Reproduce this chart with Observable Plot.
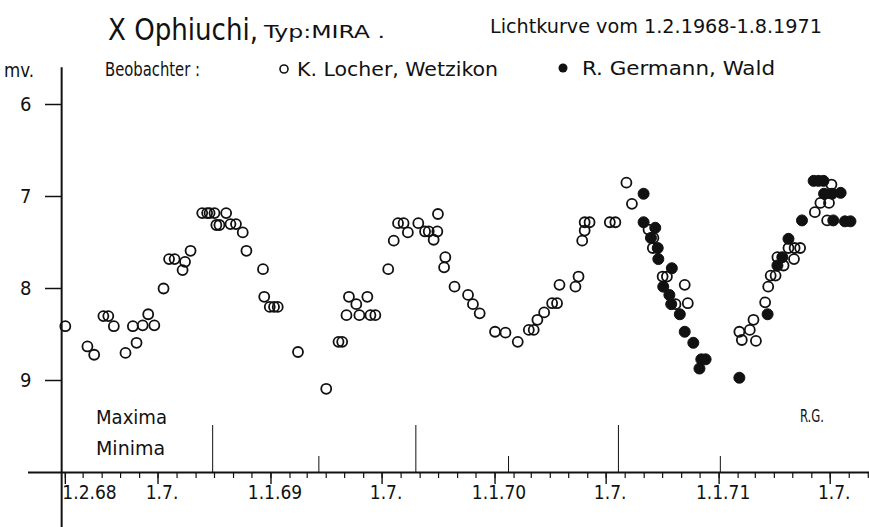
<!DOCTYPE html>
<html>
<head>
<meta charset="utf-8">
<script src="https://cdn.jsdelivr.net/npm/d3@7"></script>
<script src="https://cdn.jsdelivr.net/npm/@observablehq/plot@0.6"></script>
<style>
  body { margin: 0; background: #fff; }
  #wrap { position: relative; width: 869px; height: 527px; overflow: hidden; background: #fff; }
  #overlay { position: absolute; left: 0; top: 0; pointer-events: none; }
  #chart { position: absolute; left: 0; top: 0; }
</style>
</head>
<body>
<div id="wrap">
  <div id="chart"></div>
  <svg id="overlay" width="869" height="527" font-family="'DejaVu Sans Condensed','DejaVu Sans',sans-serif" fill="#111">
    <text x="108" y="40" font-size="30" textLength="150" lengthAdjust="spacingAndGlyphs">X Ophiuchi,</text>
    <text x="264" y="38" font-size="17" textLength="121" lengthAdjust="spacingAndGlyphs">Typ:MIRA .</text>
    <text x="490" y="33" font-size="20" textLength="332" lengthAdjust="spacingAndGlyphs">Lichtkurve vom 1.2.1968-1.8.1971</text>
    <text x="4" y="77" font-size="19" textLength="30" lengthAdjust="spacingAndGlyphs">mv.</text>
    <text x="105" y="76" font-size="19" textLength="95" lengthAdjust="spacingAndGlyphs">Beobachter :</text>
    <circle cx="284" cy="69" r="4" fill="none" stroke="#111" stroke-width="1.6"></circle>
    <text x="297" y="76" font-size="19" textLength="201" lengthAdjust="spacingAndGlyphs">K. Locher, Wetzikon</text>
    <circle cx="563" cy="68" r="4.5" fill="#111"></circle>
    <text x="582" y="75" font-size="19" textLength="193" lengthAdjust="spacingAndGlyphs">R. Germann, Wald</text>
    <text x="96" y="424" font-size="19" textLength="71" lengthAdjust="spacingAndGlyphs">Maxima</text>
    <text x="96" y="455" font-size="19" textLength="69" lengthAdjust="spacingAndGlyphs">Minima</text>
    <text x="800" y="422" font-size="18" textLength="24" lengthAdjust="spacingAndGlyphs">R.G.</text>
  </svg>
</div>
<script>
// ---- Data ----
// Observer K. Locher, Wetzikon (open circles)
const locherDates = [
  "1968-02-01","1968-03-08","1968-03-19","1968-04-03","1968-04-11","1968-04-20","1968-05-09","1968-05-21","1968-05-27","1968-06-06",
  "1968-06-15","1968-06-25","1968-07-10","1968-07-19","1968-07-28","1968-08-10","1968-08-14","1968-08-23","1968-09-11","1968-09-19",
  "1968-09-23","1968-10-01","1968-10-04","1968-10-09","1968-10-20","1968-10-27","1968-11-05","1968-11-16","1968-11-22","1968-12-19",
  "1968-12-21","1968-12-30","1969-01-06","1969-01-12","1969-02-14","1969-04-01","1969-04-21","1969-04-27","1969-05-04","1969-05-08",
  "1969-05-20","1969-05-25","1969-06-07","1969-06-12","1969-06-20","1969-07-11","1969-07-20","1969-07-27","1969-08-05","1969-08-12",
  "1969-08-29","1969-09-09","1969-09-15","1969-09-23","1969-09-29","1969-09-30","1969-10-10","1969-10-12","1969-10-27","1969-11-18",
  "1969-11-26","1969-12-07","1970-01-01","1970-01-18","1970-02-07","1970-02-25","1970-03-05","1970-03-11","1970-03-22","1970-04-04",
  "1970-04-12","1970-04-16","1970-05-12","1970-05-17","1970-05-23","1970-05-27","1970-05-27","1970-06-04","1970-07-07","1970-07-16",
  "1970-08-03","1970-08-12","1970-09-08","1970-09-16","1970-09-15","1970-10-01","1970-10-08","1970-10-22","1970-11-06","1970-11-11",
  "1971-02-03","1971-02-07","1971-02-20","1971-02-26","1971-03-02","1971-03-17","1971-03-22","1971-03-26","1971-04-03","1971-04-06",
  "1971-04-16","1971-04-24","1971-05-04","1971-05-13","1971-05-03","1971-06-06","1971-06-15","1971-06-29","1971-06-26","1971-07-03"
];
const locherMags = [
  8.41,8.63,8.72,8.30,8.30,8.41,8.70,8.41,8.59,8.40,
  8.28,8.40,8.00,7.68,7.68,7.80,7.71,7.59,7.18,7.18,
  7.18,7.18,7.31,7.31,7.18,7.30,7.30,7.39,7.59,7.79,
  8.09,8.20,8.20,8.20,8.69,9.09,8.58,8.58,8.29,8.09,
  8.17,8.29,8.09,8.29,8.29,7.79,7.48,7.29,7.29,7.39,
  7.29,7.38,7.38,7.47,7.38,7.19,7.77,7.66,7.98,8.07,
  8.17,8.27,8.47,8.48,8.58,8.45,8.45,8.34,8.26,8.16,
  8.16,7.96,7.98,7.87,7.48,7.37,7.28,7.28,7.28,7.28,
  6.85,7.08,7.36,7.45,7.56,7.87,7.87,8.17,7.96,8.16,
  8.47,8.56,8.45,8.34,8.57,8.15,7.98,7.86,7.86,7.66,
  7.75,7.56,7.56,7.56,7.68,7.17,7.07,7.07,7.26,6.87
];
// Observer R. Germann, Wald (filled circles)
const germannDates = [
  "1970-08-31","1970-08-31","1970-09-19","1970-09-12","1970-09-23","1970-09-24","1970-10-16","1970-10-02","1970-10-12","1970-10-15",
  "1970-10-29","1970-11-06","1970-11-20","1970-12-03","1970-12-10","1970-11-30","1971-02-03","1971-03-21","1971-04-06","1971-04-14",
  "1971-04-24","1971-05-16","1971-06-04","1971-06-12","1971-06-20","1971-06-21","1971-07-04","1971-07-18","1971-07-06","1971-07-25",
  "1971-08-03"
];
const germannMags = [
  6.97,7.28,7.34,7.45,7.56,7.68,7.78,7.98,8.07,8.17,
  8.28,8.47,8.59,8.77,8.77,8.87,8.97,8.28,7.75,7.66,
  7.46,7.26,6.83,6.83,6.83,6.97,6.97,6.96,7.26,7.27,
  7.27
];
// Epochs of maxima and minima marked above the time axis
const maximaDates = ["1968-09-28","1969-08-25","1970-07-21"];
const minimaDates = ["1969-03-20","1970-01-23","1971-01-03"];
// Axis ticks and labels
const xTickDates  = ["1968-02-01","1968-07-01","1969-01-01","1969-07-01","1970-01-01","1970-07-01","1971-01-01","1971-07-01"];
const xTickLabels = ["1.2.68","1.7.","1.1.69","1.7.","1.1.70","1.7.","1.1.71","1.7."];
const yTicks = [6, 7, 8, 9];
const xDomain = ["1967-12-03", "1971-09-03"];
const monthRange = ["1968-02-01", "1971-09-02"];
const yAxisDate = "1968-01-26";

// ---- Build ----
const parse = d3.utcParse("%Y-%m-%d");
const locher = locherDates.map((d, i) => ({date: parse(d), mag: locherMags[i]}));
const germann = germannDates.map((d, i) => ({date: parse(d), mag: germannMags[i]}));
const months = d3.utcMonth.range(parse(monthRange[0]), parse(monthRange[1]));
const majors = xTickDates.map((d, i) => ({date: parse(d), label: xTickLabels[i]}));
const ink = "#111";
const font = "'DejaVu Sans Condensed','DejaVu Sans',sans-serif";

const chart = Plot.plot({
  width: 869,
  height: 527,
  marginTop: 104,
  marginBottom: 55,
  marginLeft: 28,
  marginRight: 0,
  style: {background: "transparent", fontFamily: font, color: ink},
  x: {type: "utc", domain: xDomain.map(parse)},
  y: {domain: [6, 10], reverse: true},
  marks: [
    Plot.ruleY([10], {stroke: ink, strokeWidth: 2.2}),
    Plot.ruleX([parse(yAxisDate)], {y1: 5.6, y2: 10.6, stroke: ink, strokeWidth: 2}),
    Plot.axisY({ticks: yTicks, tickFormat: d => String(d), tickSize: 16, dx: 33, tickPadding: 14, fontSize: 20, strokeWidth: 1.5, label: null}),
    Plot.axisX(months, {tickSize: 6, tickFormat: () => "", label: null, strokeWidth: 1.2}),
    Plot.axisX(majors.map(d => d.date), {tickSize: 12, tickFormat: () => "", label: null, strokeWidth: 1.4}),
    Plot.text(majors.slice(0, 1), {x: "date", text: "label", frameAnchor: "bottom", dy: 26, dx: -3, textAnchor: "start", fontSize: 19, fill: ink}),
    Plot.text(majors.slice(1), {x: "date", text: "label", frameAnchor: "bottom", dy: 26, dx: 4, fontSize: 19, fill: ink}),
    Plot.axisX(maximaDates.map(parse), {tickSize: -47, tickFormat: () => "", label: null, strokeWidth: 1}),
    Plot.axisX(minimaDates.map(parse), {tickSize: -16, tickFormat: () => "", label: null, strokeWidth: 1}),
    Plot.dot(locher, {x: "date", y: "mag", r: 5, stroke: ink, strokeWidth: 1.8, fill: "none"}),
    Plot.dot(germann, {x: "date", y: "mag", r: 5.5, fill: ink, stroke: ink, strokeWidth: 1})
  ]
});
document.getElementById("chart").appendChild(chart);
</script>
</body>
</html>
